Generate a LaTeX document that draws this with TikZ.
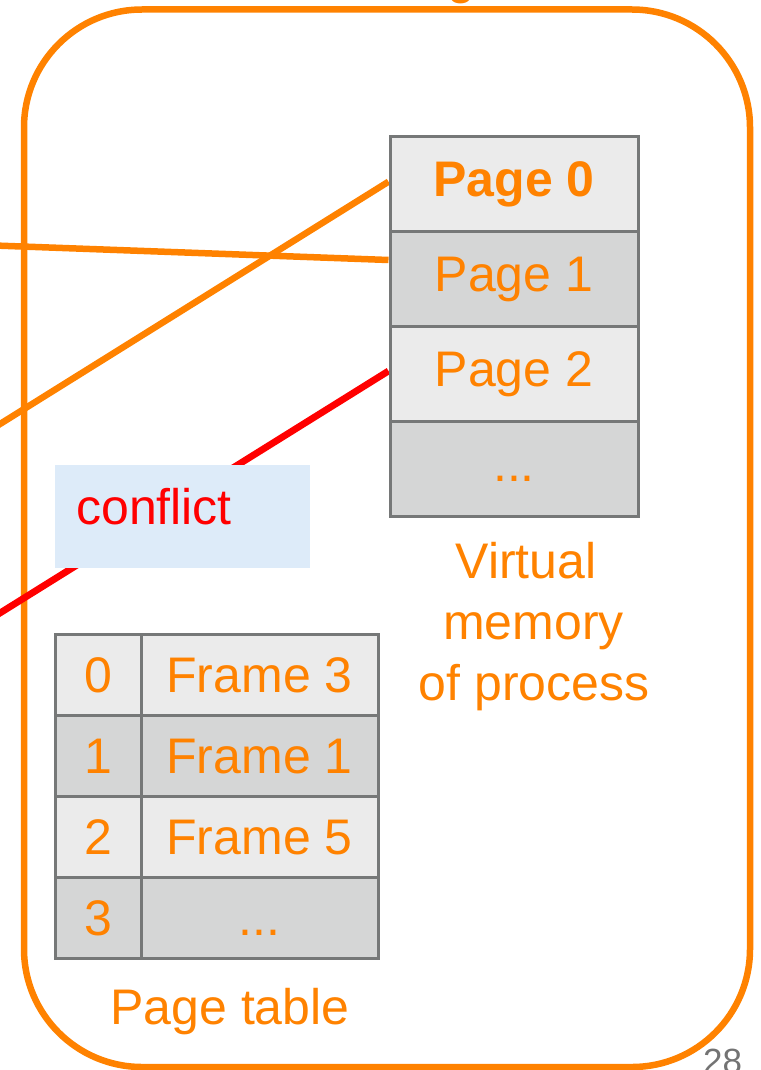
\documentclass[tikz,border=0pt]{standalone}
\usepackage{fontspec}
\setmainfont{Liberation Sans}
\definecolor{vmorange}{HTML}{FF8200}
\definecolor{conflictred}{HTML}{FF0000}
\definecolor{cellborder}{HTML}{767878}
\definecolor{celllight}{HTML}{EBEBEB}
\definecolor{celldark}{HTML}{D5D6D6}
\definecolor{noteblue}{HTML}{DDEBF9}
\definecolor{slidegray}{HTML}{737373}
\pgfdeclarelayer{wires}
\pgfsetlayers{wires,main}

\begin{document}
\begin{tikzpicture}[x=1pt,y=-1pt,
  bigtext/.style={font=\fontsize{50}{60}\selectfont},
  cell/.style={draw=cellborder, line width=3pt, inner sep=0pt, bigtext,
    text=vmorange, text height=36pt},
  vmcell/.style={cell, minimum width=248pt, minimum height=95pt, text depth=10.5pt},
  ptidx/.style={cell, minimum width=86pt, minimum height=81pt, text depth=1pt},
  ptframe/.style={cell, minimum width=237pt, minimum height=81pt, text depth=1pt},
  lightcell/.style={fill=celllight},
  darkcell/.style={fill=celldark},
  wire/.style={draw=vmorange, line width=6.5pt},
  badwire/.style={draw=conflictred, line width=6.8pt},
  caption/.style={bigtext, text=vmorange, inner sep=0pt, anchor=base},
]
\useasboundingbox (0,0) rectangle (760,1070);

% title descender peeking in from above
\node[caption] (title) at (461,-6.5) {g};

% virtual memory of the process
\node[vmcell, lightcell, font=\fontsize{50}{60}\selectfont\bfseries] (p0) at (514,183.5) {Page 0};
\node[vmcell, darkcell]  (p1) at (514,278.5) {Page 1};
\node[vmcell, lightcell] (p2) at (514,373.5) {Page 2};
\node[vmcell, darkcell]  (p3) at (514,468.5) {...};

\node[caption] (vmA) at (526,578.3) {Virtual};
\node[caption] (vmB) at (533.5,639) {memory};
\node[caption] (vmC) at (534,700) {of process};

% conflict note
\node[fill=noteblue, anchor=north west, inner xsep=21pt, inner ysep=0pt,
  text width=213pt, align=left, text height=59pt, text depth=44pt,
  bigtext, text=conflictred] (conflict) at (55,465) {conflict};

% page table
\node[ptidx, lightcell]   (i0) at (98,675) {0};
\node[ptframe, lightcell] (f0) at (259.5,675) {Frame 3};
\node[ptidx, darkcell]    (i1) at (98,756) {1};
\node[ptframe, darkcell]  (f1) at (259.5,756) {Frame 1};
\node[ptidx, lightcell]   (i2) at (98,837) {2};
\node[ptframe, lightcell] (f2) at (259.5,837) {Frame 5};
\node[ptidx, darkcell]    (i3) at (98,918) {3};
\node[ptframe, darkcell]  (f3) at (259.5,918) {...};

\node[caption] (ptlabel) at (230,1024) {Page table};

% slide number
\node[font=\fontsize{35}{40}\selectfont, text=slidegray, inner sep=0pt, anchor=base]
  (slideno) at (722.5,1073) {28};

% process frame and incoming mappings, kept beneath the boxes
\begin{pgfonlayer}{wires}
\node[draw=vmorange, line width=6.5pt, rounded corners=118pt,
  minimum width=726pt, minimum height=1057.5pt, inner sep=0pt]
  (process) at (387,538.25) {};
\coordinate (inA) at (-4,245.55);
\coordinate (inB) at (-4,426.5);
\coordinate (inC) at (-4,615.5);
\draw[wire] (inA) -- ([yshift=18.5pt]p1.west);
\draw[wire] (inB) -- ([yshift=1.8pt]p0.west);
\draw[badwire] (inC) -- ([yshift=2.5pt]p2.west);
\end{pgfonlayer}
\end{tikzpicture}
\end{document}
